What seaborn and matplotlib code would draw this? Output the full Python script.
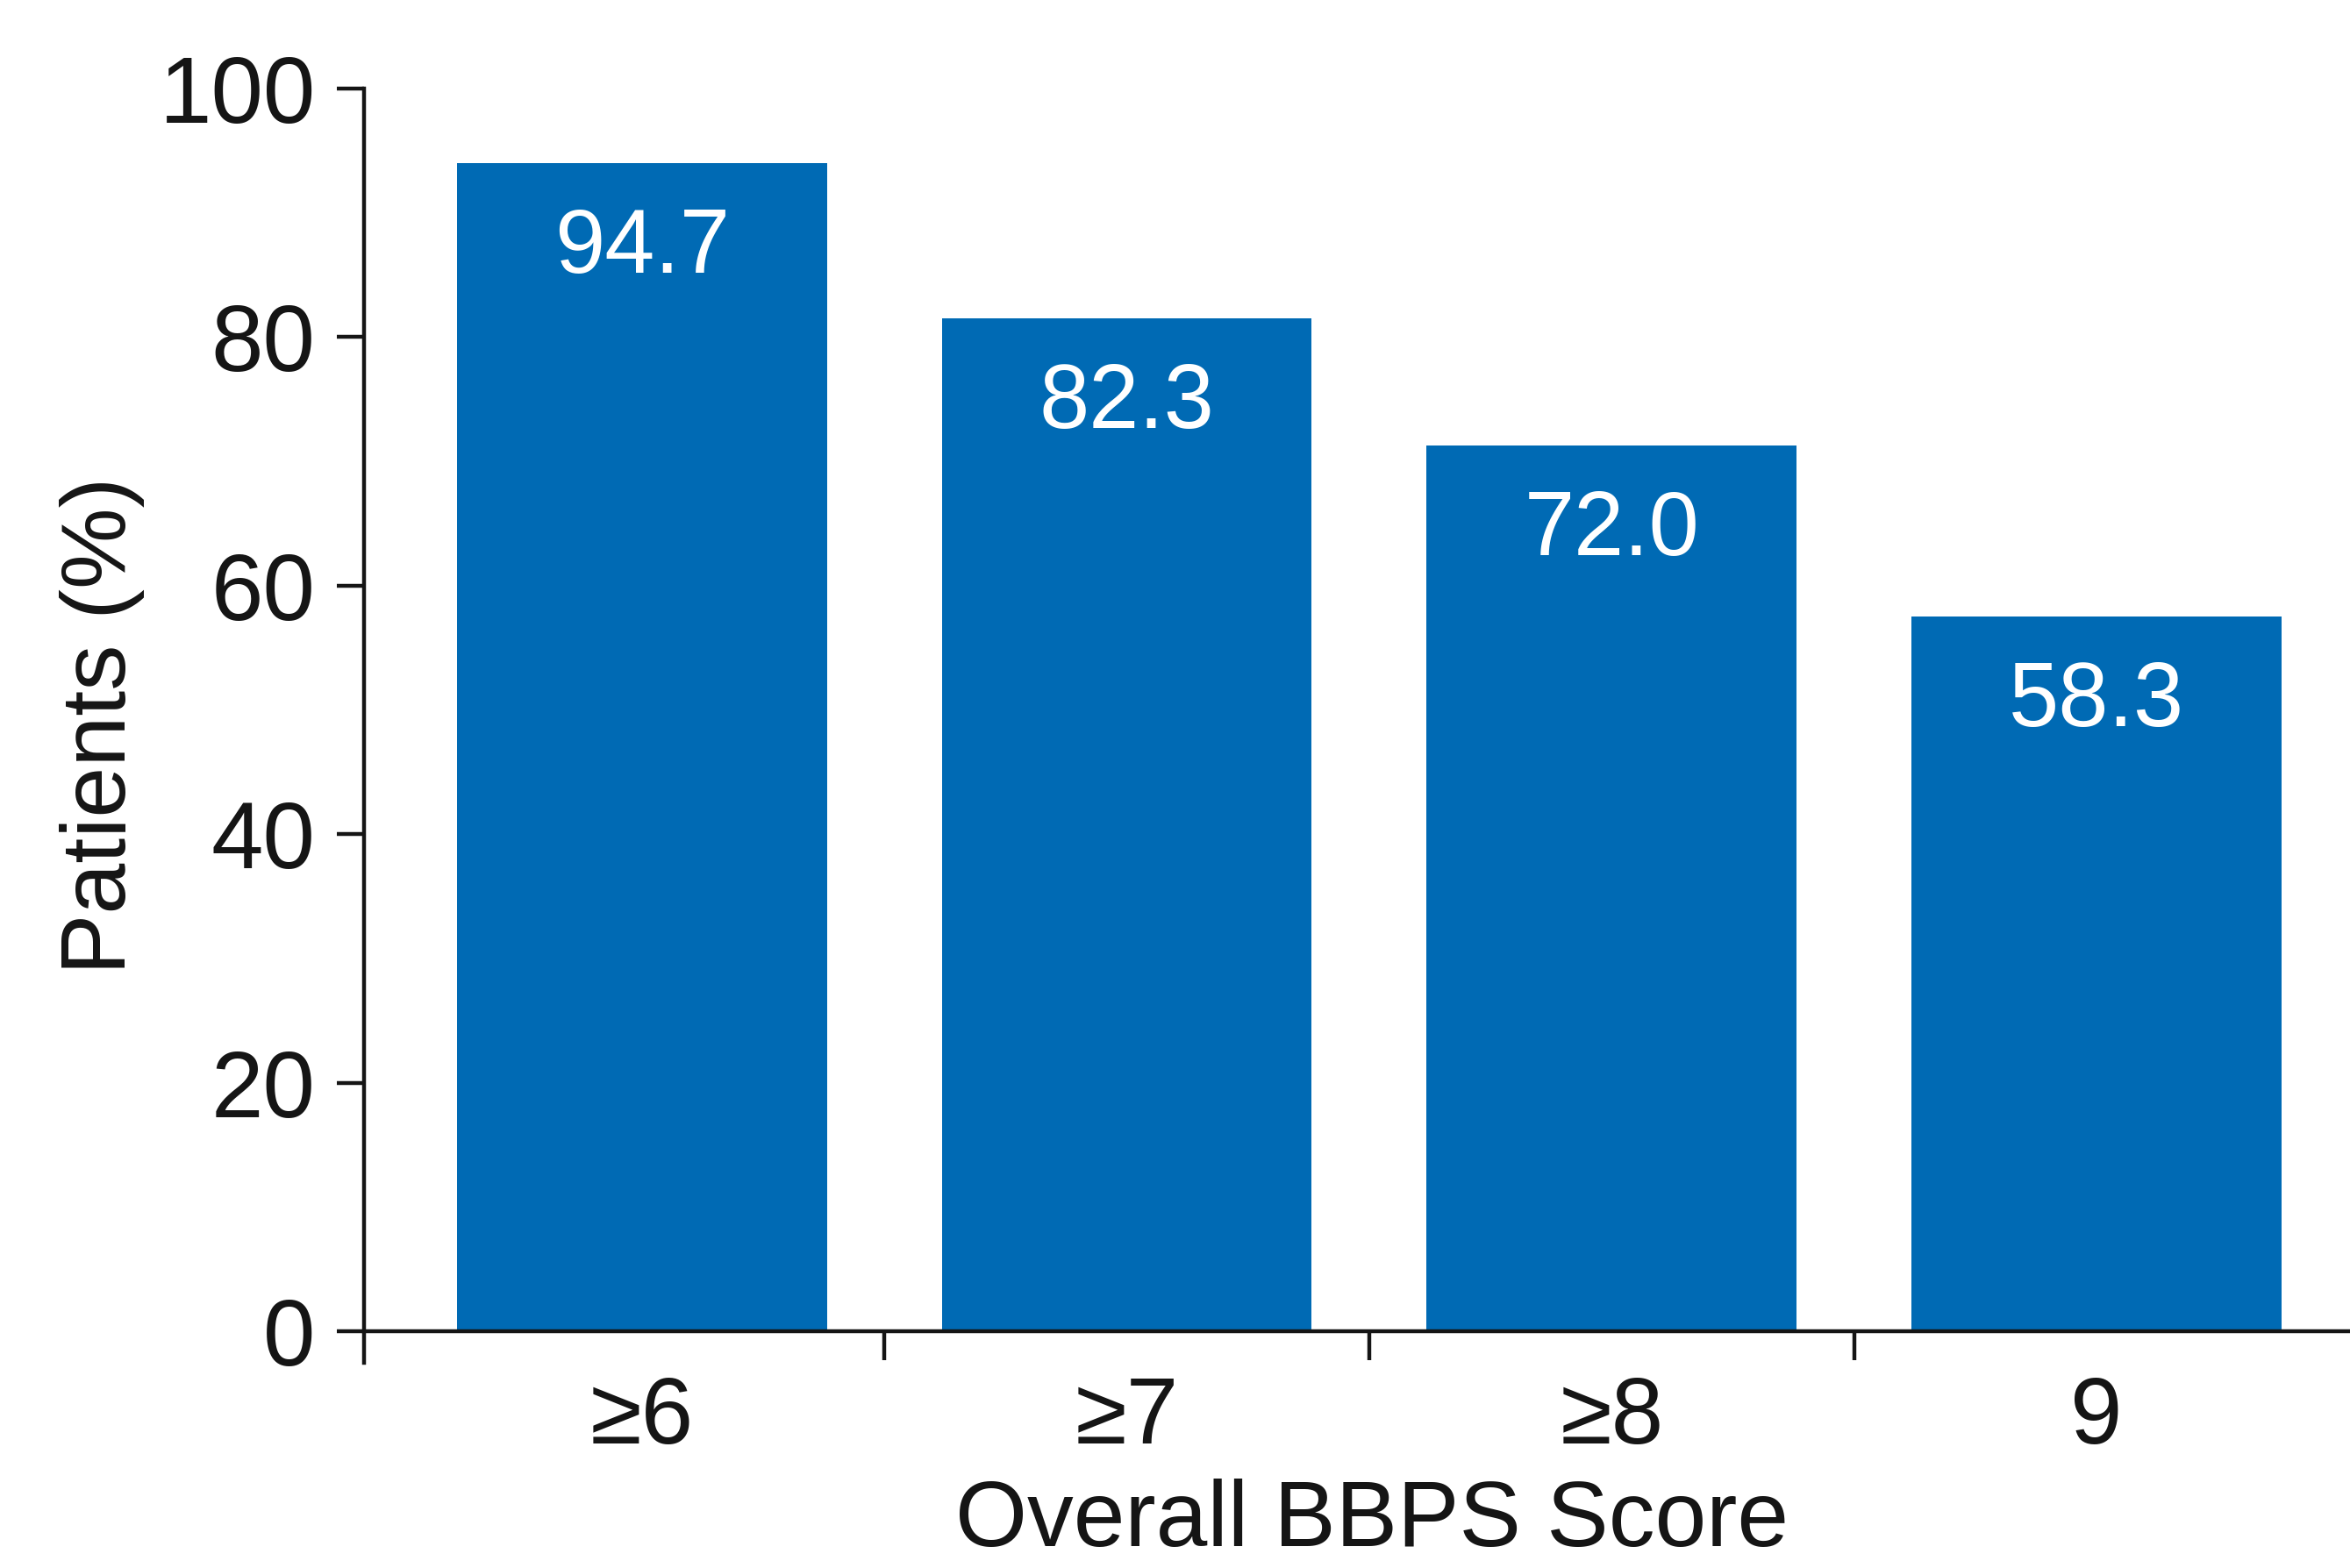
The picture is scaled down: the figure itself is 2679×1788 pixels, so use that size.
import matplotlib
matplotlib.use("Agg")
import matplotlib.pyplot as plt
import seaborn as sns
import pandas as pd

categorias = ["≥6", "≥7", "≥8", "9"]
pacientes = [94.0, 81.5, 71.3, 57.5]
rotulos = ["94.7", "82.3", "72.0", "58.3"]
yticks = [0, 20, 40, 60, 80, 100]

df = pd.DataFrame({"score": categorias, "pct": pacientes})

sns.set_theme(style="ticks")
plt.rcParams["font.family"] = ["Liberation Sans", "DejaVu Sans"]

fig = plt.figure(figsize=(26.79, 17.88), dpi=100)
ax = fig.add_axes([0.155, 0.131, 0.845, 0.8125])

sns.barplot(data=df, x="score", y="pct", color="#006AB4", saturation=1,
            width=0.763, edgecolor="none", ax=ax)

# rotulos brancos dentro das barras
for i, (v, txt) in enumerate(zip(pacientes, rotulos)):
    ax.annotate(txt, (i, v), xytext=(0, -36), textcoords="offset points",
                ha="center", va="top", color="white", fontsize=74)

ax.set_ylim(-2.5, 100)
ax.set_xlim(-0.573, 3.523)
ax.set_yticks(yticks)
ax.set_yticklabels([str(t) for t in yticks])

# eixo x na linha do zero, tracinhos entre as categorias
ax.spines["bottom"].set_position(("data", 0))
ax.spines["top"].set_visible(False)
ax.spines["right"].set_visible(False)
for s in ["left", "bottom"]:
    ax.spines[s].set_linewidth(3.2)
    ax.spines[s].set_color("#151515")

ax.set_xticks([0, 1, 2, 3])
ax.set_xticklabels(categorias)
ax.set_xticks([0.5, 1.5, 2.5], minor=True)
ax.tick_params(axis="x", which="major", length=0, pad=36, labelsize=77,
               colors="#151515")
ax.tick_params(axis="x", which="minor", length=24, width=3.2, color="#151515")
ax.tick_params(axis="y", which="major", length=22, width=3.2, pad=18,
               labelsize=77, colors="#151515")

ax.set_xlabel("Overall BBPS Score", fontsize=76, color="#151515", labelpad=13)
ax.xaxis.label.set_x(0.5075)
ax.set_ylabel("Patients (%)", fontsize=75, color="#151515", labelpad=12)

fig.savefig("out.png", dpi=100)
